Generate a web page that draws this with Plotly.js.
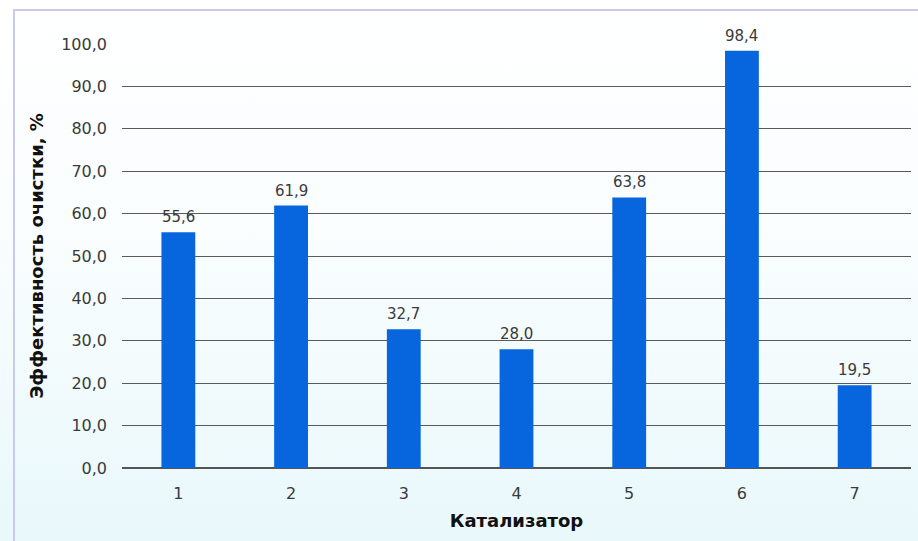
<!DOCTYPE html>
<html>
<head>
<meta charset="utf-8">
<script src="https://cdn.plot.ly/plotly-3.0.1.min.js"></script>
<style>
html,body{margin:0;padding:0;}
body{width:918px;height:541px;overflow:hidden;background:linear-gradient(to bottom,#ffffff 0%,#f9fdfe 45%,#e9f8fb 100%);position:relative;}
#frame{position:absolute;left:13px;top:9px;width:920px;height:540px;border-left:2px solid #c9c9ea;border-top:2px solid #c9c9ea;}
#chart{position:absolute;left:0;top:0;width:918px;height:541px;}
</style>
</head>
<body>
<div id="frame"></div>
<div id="chart"></div>
<script>
var categories = ['1','2','3','4','5','6','7'];
var values = [55.6, 61.9, 32.7, 28.0, 63.8, 98.4, 19.5];
var yTicks = [0,10,20,30,40,50,60,70,80,90,100];

var trace = {
  type: 'bar',
  x: categories,
  y: values,
  width: 0.3,
  marker: {color: '#0766dd'},
  hoverinfo: 'none'
};

var annotations = categories.map(function (c, i) {
  return {
    x: i, y: values[i], xref: 'x', yref: 'y',
    text: values[i].toFixed(1).replace('.', ','),
    showarrow: false, yanchor: 'bottom', yshift: 4,
    font: {family: 'DejaVu Sans, sans-serif', size: 15, color: '#3a3a3a'}
  };
});

var layout = {
  width: 918, height: 541,
  separators: ', ',
  margin: {l: 122, r: 7, t: 44, b: 73},
  paper_bgcolor: 'rgba(0,0,0,0)',
  plot_bgcolor: 'rgba(0,0,0,0)',
  showlegend: false,
  annotations: annotations,
  font: {family: 'DejaVu Sans, sans-serif', color: '#333'},
  xaxis: {
    type: 'category',
    range: [-0.5, categories.length - 0.5],
    showgrid: false,
    zeroline: false,
    showline: false,
    ticks: '',
    tickfont: {size: 16, color: '#3a3a3a'},
    ticklabelstandoff: 14,
    title: {text: 'Катализатор', font: {size: 18, color: '#111', weight: 'bold'}, standoff: 12}
  },
  yaxis: {
    range: [0, 100],
    tickvals: yTicks,
    tickformat: '.1f',
    showgrid: true,
    gridcolor: '#5a5a5a',
    gridwidth: 1,
    zeroline: true,
    zerolinecolor: '#555',
    zerolinewidth: 1.5,
    showline: false,
    ticks: '',
    ticklabelstandoff: 14,
    tickfont: {size: 16, color: '#3a3a3a'},
    title: {text: 'Эффективность очистки, %', font: {size: 18, color: '#111', weight: 'bold'}, standoff: 12}
  }
};

Plotly.newPlot('chart', [trace], layout, {displayModeBar: false, staticPlot: true});
</script>
</body>
</html>
